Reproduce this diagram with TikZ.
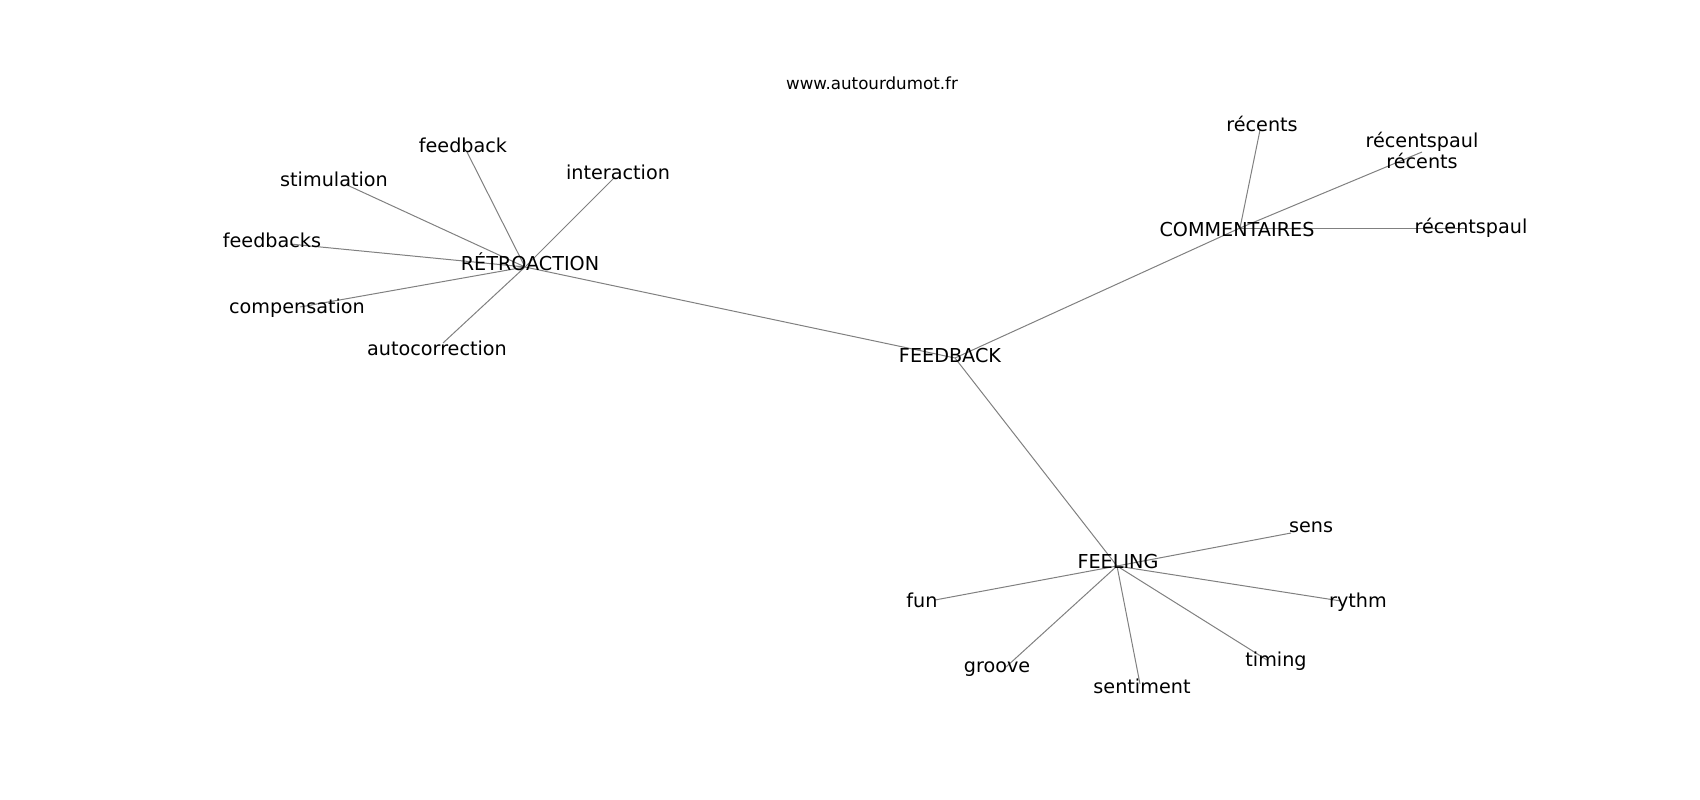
\documentclass[tikz,border=0pt]{standalone}
\usepackage{fontspec}
\setmainfont{DejaVu Sans}
\begin{document}
\begin{tikzpicture}[x=1pt,y=-1pt,
    edge/.style={draw=gray, line width=1pt},
    word/.style={inner sep=0pt, font=\fontsize{19.2}{21}\selectfont}]
    \useasboundingbox (0,0) rectangle (1700,800);
    % points where the lines meet
    \coordinate (feedback-p) at (955,358);
    \coordinate (retro-p) at (525,267);
    \coordinate (comm-p) at (1240,228);
    \coordinate (feel-p) at (1117,566);
    \coordinate (fb-p) at (467,152);
    \coordinate (stim-p) at (347,185);
    \coordinate (inter-p) at (615,177);
    \coordinate (fbs-p) at (290,244);
    \coordinate (comp-p) at (300,307);
    \coordinate (auto-p) at (443,343);
    \coordinate (rec-p) at (1260,130);
    \coordinate (recpr-p) at (1422,152);
    \coordinate (recp-p) at (1465,228);
    \coordinate (sens-p) at (1291,533);
    \coordinate (fun-p) at (935,600);
    \coordinate (rythm-p) at (1341,601);
    \coordinate (groove-p) at (1006,667);
    \coordinate (sent-p) at (1140,684);
    \coordinate (timing-p) at (1267,660);
    % lines
    \draw[edge] (feedback-p) -- (retro-p);
    \draw[edge] (feedback-p) -- (comm-p);
    \draw[edge] (feedback-p) -- (feel-p);
    \foreach \p in {fb,stim,inter,fbs,comp,auto}
      \draw[edge] (retro-p) -- (\p-p);
    \foreach \p in {rec,recpr,recp}
      \draw[edge] (comm-p) -- (\p-p);
    \foreach \p in {sens,fun,rythm,groove,sent,timing}
      \draw[edge] (feel-p) -- (\p-p);
    % words
    \node[inner sep=0pt, font=\fontsize{16.7}{19}\selectfont] (site) at (872,83) {www.autourdumot.fr};
    \node[word] (feedback) at (950,356) {FEEDBACK};
    \node[word] (retro) at (530,262) {RÉTROACTION};
    \node[word] (comm) at (1237,230) {COMMENTAIRES};
    \node[word] (feel) at (1118,562) {FEELING};
    \node[word] (fb) at (463,145) {feedback};
    \node[word] (stim) at (334,179) {stimulation};
    \node[word] (inter) at (618,172) {interaction};
    \node[word] (fbs) at (272,240) {feedbacks};
    \node[word] (comp) at (297,308) {compensation};
    \node[word] (auto) at (437,348) {autocorrection};
    \node[word] (rec) at (1262,124) {récents};
    \node[word, align=center] (recpr) at (1422,150) {récentspaul\\récents};
    \node[word] (recp) at (1471,228) {récentspaul};
    \node[word] (sens) at (1311,527) {sens};
    \node[word] (fun) at (922,600) {fun};
    \node[word] (rythm) at (1358,602) {rythm};
    \node[word] (groove) at (997,669) {groove};
    \node[word] (sent) at (1142,686) {sentiment};
    \node[word] (timing) at (1276,661) {timing};
\end{tikzpicture}
\end{document}
